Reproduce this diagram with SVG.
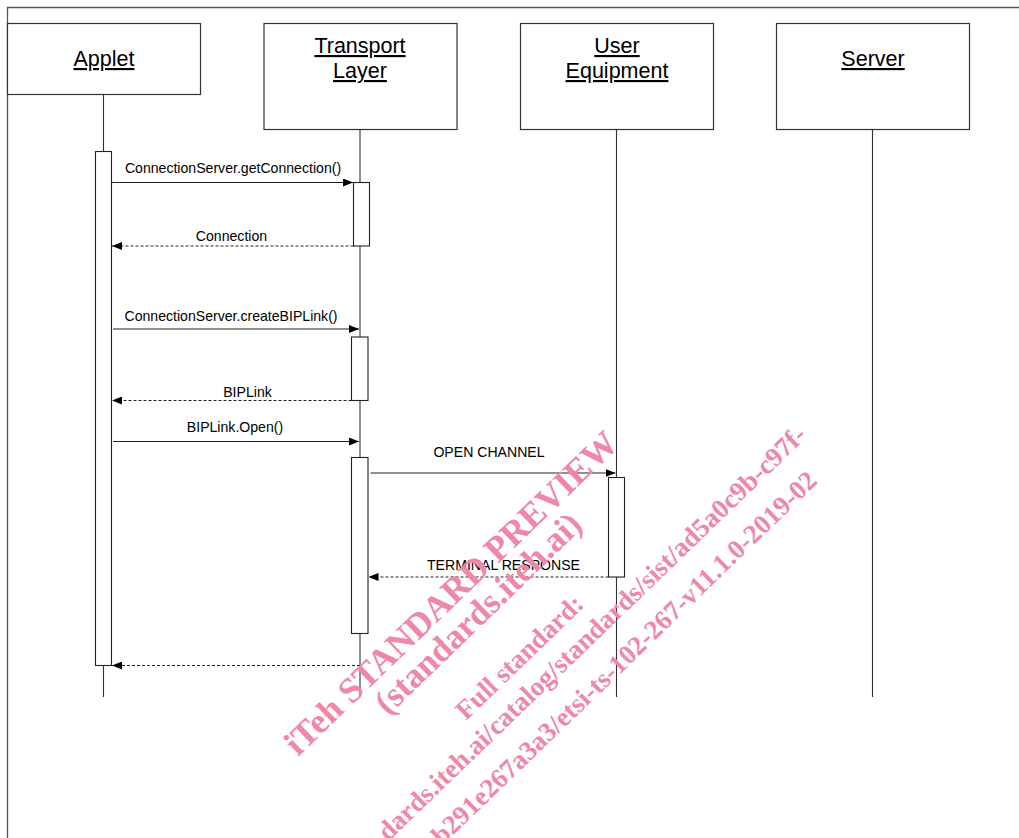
<svg xmlns="http://www.w3.org/2000/svg" width="1019" height="838" viewBox="0 0 1019 838">
<style>
.frame{fill:none;stroke:#555;stroke-width:1.3}
.box{fill:#fff;stroke:#333;stroke-width:1.2}
.life{stroke:#333;stroke-width:1.1}
.act{fill:#fff;stroke:#222;stroke-width:1.1}
.msg{stroke:#222;stroke-width:1.1;fill:none;marker-end:url(#arr)}
.ret{stroke:#222;stroke-width:1.1;fill:none;stroke-dasharray:3,2;marker-end:url(#arr)}
.title{font-family:"Liberation Sans",Arial,sans-serif;font-size:21.5px;fill:#000;text-anchor:middle;text-decoration:underline}
.lbl{font-family:"Liberation Sans",Arial,sans-serif;font-size:14.1px;fill:#000;text-anchor:middle}
.wm{font-family:"Liberation Serif","Times New Roman",serif;font-weight:bold;fill:#ef88a8}
</style>
<defs>
<marker id="arr" viewBox="0 0 10 8" refX="10" refY="4" markerWidth="10" markerHeight="8" markerUnits="userSpaceOnUse" orient="auto">
<path d="M0,0 L10,4 L0,8 z" fill="#000"/>
</marker>
</defs>
<rect width="1019" height="838" fill="#fff"/>
<path class="frame" d="M7.5,838 V7.5 H1019"/>

<g id="node-applet">
<rect class="box" x="7.5" y="23.5" width="193" height="71"/>
<text class="title" x="104" y="66">Applet</text>
<line class="life" x1="103.5" y1="94.5" x2="103.5" y2="697"/>
</g>
<g id="node-transport">
<rect class="box" x="264" y="23.5" width="193" height="106"/>
<text class="title" x="360" y="53">Transport</text>
<text class="title" x="360" y="78">Layer</text>
<line class="life" x1="360" y1="129.5" x2="360" y2="697"/>
</g>
<g id="node-ue">
<rect class="box" x="520.5" y="23.5" width="193" height="106"/>
<text class="title" x="617" y="53">User</text>
<text class="title" x="617" y="78">Equipment</text>
<line class="life" x1="616.5" y1="129.5" x2="616.5" y2="697"/>
</g>
<g id="node-server">
<rect class="box" x="776.5" y="23.5" width="193" height="106"/>
<text class="title" x="873" y="66">Server</text>
<line class="life" x1="872.5" y1="129.5" x2="872.5" y2="697"/>
</g>

<g id="activations">
<rect class="act" x="95.5" y="151.5" width="16" height="514"/>
<rect class="act" x="353.5" y="182.5" width="16" height="63.5"/>
<rect class="act" x="351.5" y="337" width="16.5" height="63.5"/>
<rect class="act" x="351.5" y="457.5" width="16.5" height="176"/>
<rect class="act" x="608.5" y="477.5" width="16" height="99.5"/>
</g>

<g id="connectors">
<line class="msg" x1="111.5" y1="182.5" x2="353" y2="182.5"/>
<line class="ret" x1="353.5" y1="246" x2="112" y2="246"/>
<line class="msg" x1="113" y1="329" x2="359" y2="329"/>
<line class="ret" x1="351.5" y1="400.5" x2="112" y2="400.5"/>
<line class="msg" x1="113" y1="441.5" x2="359" y2="441.5"/>
<line class="msg" x1="370.5" y1="473" x2="615.5" y2="473"/>
<line class="ret" x1="608.5" y1="577" x2="368.5" y2="577"/>
<line class="ret" x1="360" y1="665.5" x2="112" y2="665.5"/>
</g>

<g id="labels">
<text class="lbl" x="233" y="172.5">ConnectionServer.getConnection()</text>
<text class="lbl" x="231.5" y="240.5">Connection</text>
<text class="lbl" x="231" y="321">ConnectionServer.createBIPLink()</text>
<text class="lbl" x="247.5" y="397">BIPLink</text>
<text class="lbl" x="235" y="432">BIPLink.Open()</text>
<text class="lbl" x="489" y="457">OPEN CHANNEL</text>
<text class="lbl" x="503.5" y="570">TERMINAL RESPONSE</text>
</g>

<g id="watermark" class="wm">
<text x="298" y="757" font-size="35.5" transform="rotate(-44 298 757)">iTeh STANDARD PREVIEW</text>
<text x="388" y="716" font-size="35" transform="rotate(-44 388 716)">(standards.iteh.ai)</text>
<text x="466" y="721" font-size="27" transform="rotate(-44 466 721)">Full standard:</text>
<text x="388" y="842" font-size="27" transform="rotate(-44 388 842)">dards.iteh.ai/catalog/standards/sist/ad5a0c9b-c97f-</text>
<text x="442" y="846" font-size="27" transform="rotate(-44 442 846)">b291e267a3a3/etsi-ts-102-267-v11.1.0-2019-02</text>
</g>
</svg>
